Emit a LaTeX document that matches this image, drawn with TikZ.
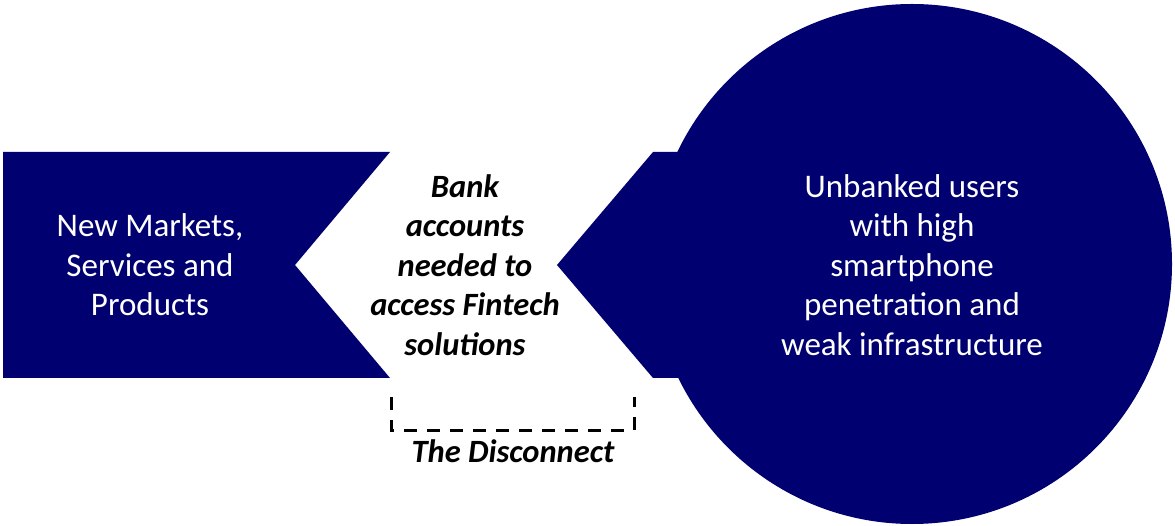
\documentclass[tikz,border=0pt]{standalone}
\usepackage{fontspec}
\setmainfont{Carlito}
\definecolor{navy}{RGB}{0,0,112}
\begin{document}
\begin{tikzpicture}[x=1pt,y=-1pt,
  shapefill/.style={fill=navy,draw=none},
  whitetext/.style={text=white,align=center,font=\fontsize{33}{39.5}\selectfont},
  blacktext/.style={text=black,align=center,font=\fontsize{32.5}{39.5}\selectfont\bfseries\itshape},
  bracket/.style={draw=black,line width=3pt,dash pattern=on 13pt off 10pt}]
  \useasboundingbox (0,0) rectangle (1175,526);
  % left chevron
  \fill[shapefill] (3,152) -- (390,152) -- (295,265) -- (390,378) -- (3,378) -- cycle;
  % right circle with pointed tab
  \fill[shapefill] (912,264) circle (260);
  \fill[shapefill] (700,152) -- (653,152) -- (557,265) -- (653,378) -- (700,378) -- cycle;
  % texts
  \node[whitetext] (markets) at (150,265) {New Markets,\\Services and\\Products};
  \node[whitetext] (users) at (912,265) {Unbanked users\\with high\\smartphone\\penetration and\\weak infrastructure};
  \node[blacktext] (accounts) at (465,265) {Bank\\accounts\\needed to\\access Fintech\\solutions};
  % dashed bracket and its label
  \coordinate (bl) at (391,397);
  \coordinate (br) at (634,397);
  \draw[bracket] (bl) -- (391,430) -- (634,430) -- (br);
  \node[blacktext] (disconnect) at (513,451) {The Disconnect};
\end{tikzpicture}
\end{document}
